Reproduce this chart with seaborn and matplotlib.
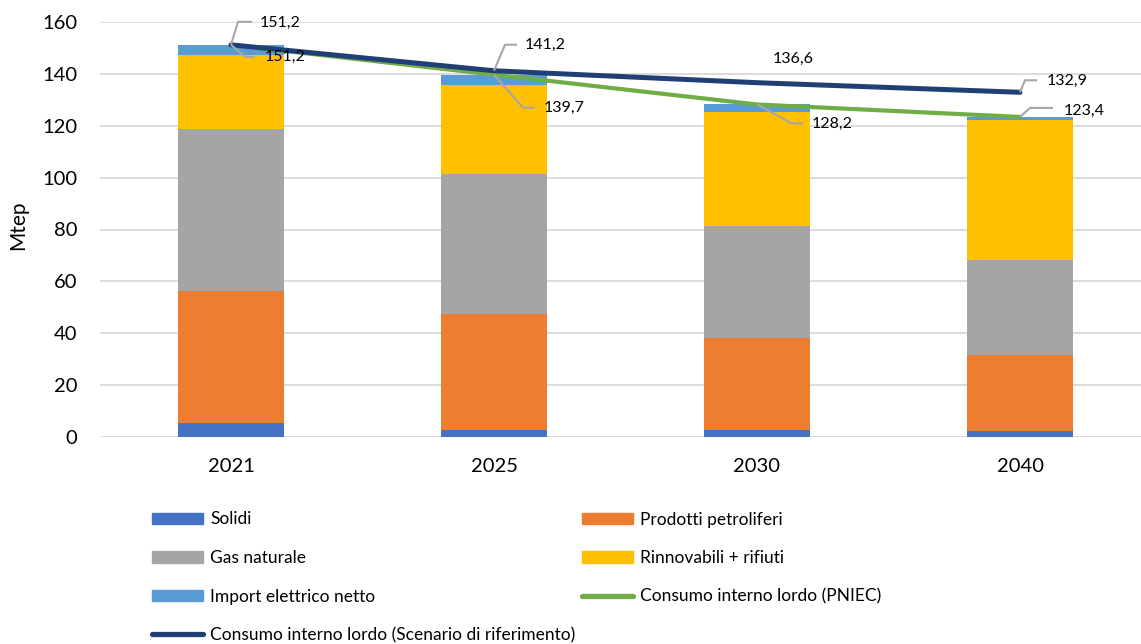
import numpy as np
import pandas as pd
import matplotlib
matplotlib.use("Agg")
import matplotlib.pyplot as plt
import seaborn as sns
from matplotlib.lines import Line2D
from matplotlib.patches import Patch

# Consumo interno lordo per fonte (Mtep)
anni = ["2021", "2025", "2030", "2040"]
solidi = [5.3, 2.6, 2.7, 2.3]
petroliferi = [51.0, 44.7, 35.5, 29.3]
gas_naturale = [62.4, 54.2, 43.0, 36.6]
rinnovabili = [28.6, 34.2, 44.1, 54.0]
import_elettrico = [3.9, 4.0, 2.9, 1.2]
cil_pniec = [151.2, 139.7, 128.2, 123.4]
cil_riferimento = [151.2, 141.2, 136.6, 132.9]

C_SOLIDI = "#4472C4"
C_PETROL = "#ED7D31"
C_GAS = "#A5A5A5"
C_RINNOV = "#FFC000"
C_IMPORT = "#5B9BD5"
C_PNIEC = "#70AD47"
C_RIF = "#203F74"
C_LEADER = "#A6A6A6"
C_GRID = "#D9D9D9"

sns.set_theme(style="white")
plt.rcParams["font.family"] = ["Lato", "DejaVu Sans"]

W, H = 1141, 644
fig = plt.figure(figsize=(W / 100, H / 100), dpi=100)
ax = fig.add_axes([99.5 / W, 1 - 437 / H, 1052 / W, 415 / H])

layers = [
    ("Solidi", solidi, C_SOLIDI),
    ("Prodotti petroliferi", petroliferi, C_PETROL),
    ("Gas naturale", gas_naturale, C_GAS),
    ("Rinnovabili + rifiuti", rinnovabili, C_RINNOV),
    ("Import elettrico netto", import_elettrico, C_IMPORT),
]

# stacked bars: draw cumulative totals from the tallest down
cum = np.cumsum([np.array(v, dtype=float) for _, v, _ in layers], axis=0)
for k in range(len(layers) - 1, -1, -1):
    df = pd.DataFrame({"anno": anni, "valore": cum[k]})
    sns.barplot(data=df, x="anno", y="valore", color=layers[k][2],
                saturation=1, width=0.4, linewidth=0, ax=ax, zorder=2)

xs = np.arange(len(anni))
sns.lineplot(x=xs, y=cil_pniec, color=C_PNIEC, lw=3.0, ax=ax, zorder=4,
             solid_capstyle="round")
sns.lineplot(x=xs, y=cil_riferimento, color=C_RIF, lw=3.6, ax=ax, zorder=4.2,
             solid_capstyle="round")

ax.set_xlim(-0.5, 3.5)
ax.set_ylim(0, 160)
ax.set_yticks(np.arange(0, 161, 20))
ax.set_xticks(xs)
ax.set_xticklabels(anni)
ax.grid(axis="y", color=C_GRID, lw=1.3, zorder=0)
ax.set_axisbelow(True)
for s in ax.spines.values():
    s.set_visible(False)
ax.tick_params(axis="y", length=0, pad=16, labelsize=14.5, labelcolor="black")
ax.tick_params(axis="x", length=0, pad=15, labelsize=14.5, labelcolor="black")
ax.set_xlabel("")
ax.set_ylabel("Mtep", fontsize=15, color="black")
ax.yaxis.set_label_coords((28.5 - 99.5) / 1052, (437 - 225) / 415)


def fmt(v):
    return f"{v:.1f}".replace(".", ",")


def etichetta(i, v, elbow, end, text_off, ha="left"):
    px, py = ax.transData.transform((i, v))
    inv = ax.transData.inverted()
    if elbow is not None:
        pts = np.array([(px, py), (px + elbow[0], py + elbow[1]),
                        (px + end[0], py + end[1])])
        d = inv.transform(pts)
        ax.plot(d[:, 0], d[:, 1], color=C_LEADER, lw=1.5, zorder=5,
                clip_on=False, solid_capstyle="butt")
    tx, ty = inv.transform((px + text_off[0], py + text_off[1]))
    ax.text(tx, ty, fmt(v), ha=ha, va="center", fontsize=11.5,
            color="black", zorder=6)


# reference scenario labels (above the line)
etichetta(0, cil_riferimento[0], (7, 23), (21, 23), (29, 22))
etichetta(1, cil_riferimento[1], (11, 26), (23, 26), (31, 26))
etichetta(2, cil_riferimento[2], None, None, (36, 24), ha="center")
etichetta(3, cil_riferimento[3], (5, 12), (17, 12), (27, 11))
# PNIEC labels
etichetta(0, cil_pniec[0], (14, -12), (24, -12), (34, -12))
etichetta(1, cil_pniec[1], (29, -33), (41, -33), (50, -33))
etichetta(2, cil_pniec[2], (35, -19), (46, -19), (55, -19))
etichetta(3, cil_pniec[3], (10, 9), (33, 9), (44, 6))

leg_kw = dict(loc="upper left", frameon=False, fontsize=12.5,
              handlelength=2.95, handleheight=0.65, handletextpad=0.4,
              labelspacing=1.3, borderpad=0, borderaxespad=0,
              labelcolor="black")
h1 = [Patch(color=C_SOLIDI), Patch(color=C_GAS), Patch(color=C_IMPORT),
      Line2D([], [], color=C_RIF, lw=3.8, solid_capstyle="round")]
l1 = ["Solidi", "Gas naturale", "Import elettrico netto",
      "Consumo interno lordo (Scenario di riferimento)"]
h2 = [Patch(color=C_PETROL), Patch(color=C_RINNOV),
      Line2D([], [], color=C_PNIEC, lw=3.8, solid_capstyle="round")]
l2 = ["Prodotti petroliferi", "Rinnovabili + rifiuti",
      "Consumo interno lordo (PNIEC)"]
fig.legend(h1, l1, bbox_to_anchor=(152 / W, 1 - 511.5 / H), **leg_kw)
fig.legend(h2, l2, bbox_to_anchor=(582 / W, 1 - 511.5 / H), **leg_kw)

fig.savefig("out.png", dpi=100)
